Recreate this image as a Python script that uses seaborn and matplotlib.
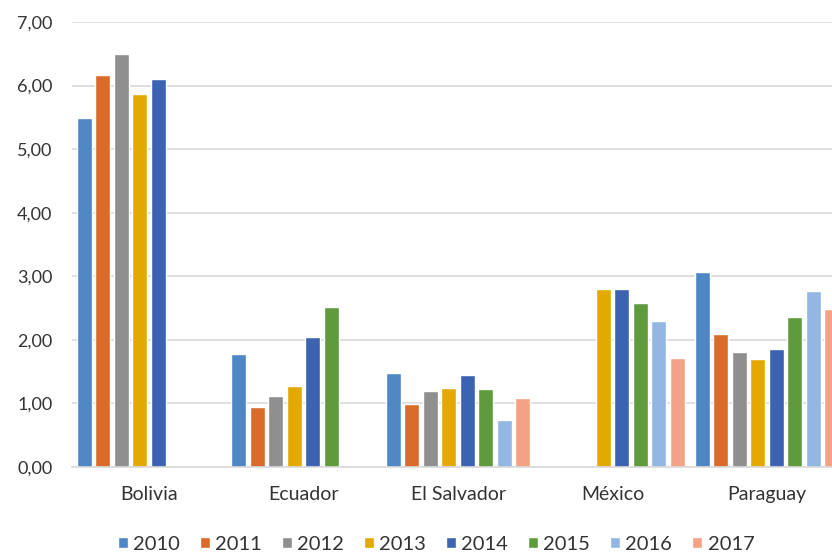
import numpy as np
import pandas as pd
import matplotlib
matplotlib.use("Agg")
import matplotlib.pyplot as plt
import seaborn as sns

countries = ["Bolivia", "Ecuador", "El Salvador", "México", "Paraguay"]
years = ["2010", "2011", "2012", "2013", "2014", "2015", "2016", "2017"]

# one list per country, values by year (None = no data)
bolivia = [5.49, 6.16, 6.49, 5.87, 6.10, None, None, None]
ecuador = [1.78, 0.94, 1.11, 1.27, 2.05, 2.52, None, None]
el_salvador = [1.48, 0.99, 1.20, 1.24, 1.45, 1.23, 0.74, 1.08]
mexico = [None, None, None, 2.80, 2.80, 2.58, 2.29, 1.71]
paraguay = [3.06, 2.09, 1.81, 1.70, 1.85, 2.36, 2.77, 2.48]

colors = ["#4E87C3", "#DA6B2B", "#8F8F8F", "#E3A900",
          "#3B63B1", "#5F9B3D", "#93B7E2", "#F2A385"]

rows = []
for c, vals in zip(countries, [bolivia, ecuador, el_salvador, mexico, paraguay]):
    for y, v in zip(years, vals):
        if v is not None:
            rows.append({"pais": c, "anio": y, "valor": v})
df = pd.DataFrame(rows)

sns.set_style("white")
plt.rcParams["font.family"] = ["Lato", "DejaVu Sans"]

fig = plt.figure(figsize=(8.32, 5.52), dpi=100)
ax = fig.add_axes([72 / 832, 85 / 552, 760 / 832, 445 / 552])

sns.barplot(data=df, x="pais", y="valor", hue="anio", order=countries,
            hue_order=years, palette=colors, width=0.958, gap=0.19,
            saturation=1, ax=ax, legend=True)

ax.set_ylim(0, 7)
ax.set_xlim(-0.5, 4.42)
ax.set_yticks(np.arange(0, 8, 1))
ax.set_yticklabels([f"{v:.2f}".replace(".", ",") for v in range(8)])
ax.yaxis.grid(True, color="#D9D9D9", linewidth=1.2)
ax.set_axisbelow(True)
for s in ["top", "right", "left"]:
    ax.spines[s].set_visible(False)
ax.spines["bottom"].set_color("#D9D9D9")
ax.spines["bottom"].set_linewidth(1.2)
ax.tick_params(axis="y", length=0, pad=14, labelsize=13, labelcolor="#333333")
ax.tick_params(axis="x", length=0, pad=14, labelsize=14, labelcolor="#333333")
ax.set_xlabel("")
ax.set_ylabel("")

handles, labels = ax.get_legend_handles_labels()
ax.get_legend().remove()
fig.legend(handles, labels, loc="center", bbox_to_anchor=(436 / 832, 1 - 544 / 552),
           ncol=8, frameon=False, fontsize=14.5, handlelength=0.5,
           handleheight=0.5, handletextpad=0.25, columnspacing=1.0,
           labelcolor="#333333")

fig.savefig("out.png", dpi=100)
